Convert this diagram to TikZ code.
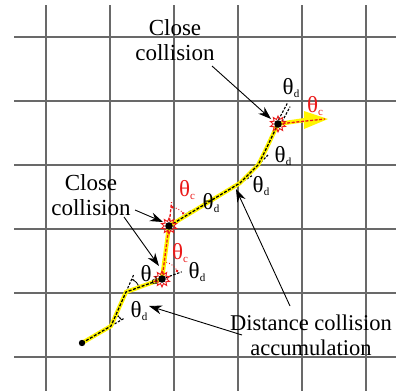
\documentclass[tikz,border=0pt]{standalone}
\usepackage{fontspec}
\setmainfont{Liberation Serif}
\usetikzlibrary{shapes.geometric,arrows.meta,calc}
\definecolor{gridgray}{RGB}{105,105,105}
\definecolor{redc}{RGB}{235,25,25}
\definecolor{yel}{RGB}{255,245,0}
\begin{document}
\begin{tikzpicture}[x=1pt,y=-1pt,
  gridline/.style={draw=gridgray,line width=1.5pt},
  yellowline/.style={draw=yel,line width=4.2pt},
  blackdash/.style={draw=black,line width=1.3pt,dash pattern=on 3pt off 1.6pt},
  reddash/.style={draw=redc,line width=1.3pt,dash pattern=on 3pt off 1.6pt},
  extdash/.style={draw=black,line width=1.1pt,dash pattern=on 2.5pt off 1.5pt},
  annot/.style={draw=black,line width=0.9pt,-{Stealth[length=13pt,width=9pt]}},
  bigtext/.style={font=\fontsize{23}{25}\selectfont,align=center,inner sep=0pt},
  thd/.style={font=\fontsize{23}{23}\selectfont,inner sep=0pt},
  thc/.style={font=\fontsize{23}{23}\selectfont,text=redc,inner sep=0pt},
  collmark/.style={star,star points=10,star point ratio=1.7,minimum size=16pt,draw=redc,line width=0.9pt,inner sep=0pt},
  arcblk/.style={draw=black,line width=0.8pt,{Stealth[length=2.5pt]}-{Stealth[length=2.5pt]}},
  arcred/.style={draw=redc,line width=0.9pt,dotted,{Circle[length=2.5pt]}-{Circle[length=2.5pt]}}
]
\newcommand{\thsub}[1]{θ\raisebox{-0.35ex}{\fontsize{11}{11}\selectfont #1}}
\useasboundingbox (0,0) rectangle (396,391);
\fill[white] (0,0) rectangle (396,391);
% grid
\foreach \x in {46,110,174,238,302,366} \draw[gridline] (\x,5) -- (\x,391);
\foreach \y in {37,101,165,229,293,357} \draw[gridline] (14,\y) -- (396,\y);
% points
\coordinate (S) at (82,343);
\coordinate (P1) at (111,326);
\coordinate (P2) at (126,292);
\coordinate (C1) at (162,279);
\coordinate (C2) at (169,226);
\coordinate (K1) at (240,183);
\coordinate (K2) at (258,165);
\coordinate (C3) at (278,124);
\coordinate (AB) at (305,120);
\coordinate (T) at (328,119);
% extension dashes
\draw[extdash] (P1) -- ++(-30.4:16) coordinate (E1);
\draw[extdash] (P2) -- ++(-66:20) coordinate (E2);
\draw[extdash] (C1) -- ++(-20:21) coordinate (E3);
\draw[reddash] (C2) -- ++(-84:24) coordinate (E4);
\draw[extdash] (C2) -- ++(-35:27) coordinate (E5);
\draw[extdash] (K1) -- ++(-31.2:14) coordinate (E6);
\draw[extdash] (K2) -- ++(-45:14) coordinate (E7);
\draw[extdash] ($(C3)+(-152:1.5)$) -- ++(-62:23) coordinate (E8);
\draw[extdash] ($(C3)+(28:2.5)$) -- ++(-62:21) coordinate (E9);
% arcs
\draw[arcblk] ($(P1)+(-30.4:12)$) arc[start angle=-30.4,end angle=-64,radius=12];
\draw[arcblk] ($(P2)+(-66:14)$) arc[start angle=-66,end angle=-20,radius=14];
\draw[arcred] ($(C1)+(-82.5:17)$) arc[start angle=-82.5,end angle=-24,radius=17];
\draw[arcred] ($(C2)+(-84:19)$) arc[start angle=-84,end angle=-38,radius=19];
% trajectory
\draw[yellowline] (S) -- (P1) -- (P2) -- (C1) -- (C2) -- (K1) -- (K2) .. controls (266,150) and (273,134) .. (C3) -- (AB);
\draw[blackdash] (S) -- (P1) -- (P2) -- (C1);
\draw[reddash] (C1) -- (C2);
\draw[blackdash] (C2) -- (K1) -- (K2) .. controls (266,150) and (273,134) .. (C3);
\fill[yel] (304,111) -- (T) -- (304,129) -- cycle;
\draw[reddash] (C3) -- (325,119);
% markers
\node[collmark] (M1) at (C1) {};
\node[collmark] (M2) at (C2) {};
\node[collmark] (M3) at (C3) {};
\fill (C1) circle (3.8pt);
\fill (C2) circle (3.8pt);
\fill (C3) circle (3.8pt);
\fill (S) circle (3.2pt);
% angle labels
\node[thd] (t1) at (139,311) {\thsub{d}};
\node[thd] (t2) at (149,275) {\thsub{d}};
\node[thc] (t3) at (180,253) {\thsub{c}};
\node[thd] (t4) at (197,272) {\thsub{d}};
\node[thc] (t5) at (187,190) {\thsub{c}};
\node[thd] (t6) at (211,203) {\thsub{d}};
\node[thd] (t7) at (261,186) {\thsub{d}};
\node[thd] (t8) at (283,156) {\thsub{d}};
\node[thd] (t9) at (291,88) {\thsub{d}};
\node[thc] (t10) at (315,106) {\thsub{c}};
% text labels
\node[bigtext] (L1) at (175,40) {Close\\collision};
\node[bigtext] (L2) at (91,195) {Close\\collision};
\node[bigtext,font=\fontsize{22.5}{25}\selectfont] (L3) at (311,335) {Distance collision\\accumulation};
% annotation arrows
\coordinate (a1s) at (212,66);
\coordinate (a1e) at (271,119);
\coordinate (a2s) at (135,210);
\coordinate (a2e) at (163,222);
\coordinate (a3s) at (124,217);
\coordinate (a3e) at (159,266);
\coordinate (a4s) at (290,306);
\coordinate (a4e) at (236,189);
\coordinate (a5s) at (242,335);
\coordinate (a5e) at (149,306);
\draw[annot] (a1s) -- (a1e);
\draw[annot] (a2s) -- (a2e);
\draw[annot] (a3s) -- (a3e);
\draw[annot] (a4s) -- (a4e);
\draw[annot] (a5s) -- (a5e);
\end{tikzpicture}
\end{document}
